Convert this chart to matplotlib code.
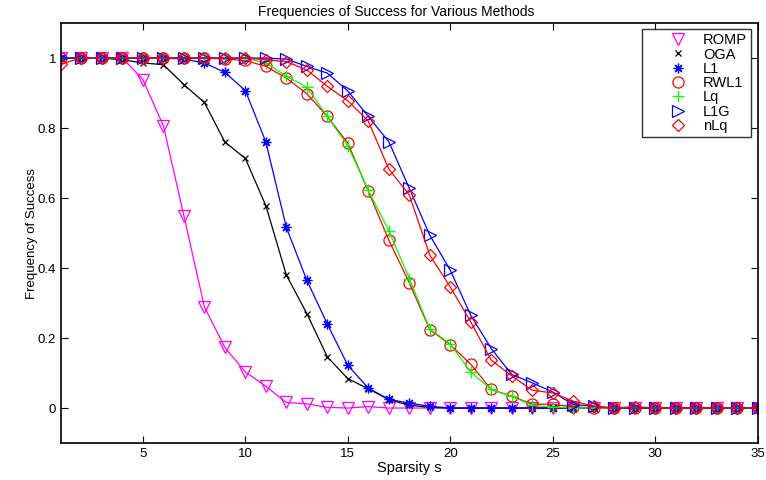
import matplotlib
matplotlib.use("Agg")
import matplotlib.pyplot as plt
from matplotlib.lines import Line2D
import numpy as np

plt.rcParams['font.family'] = ['Liberation Sans', 'DejaVu Sans']

# sparsity levels
s = np.arange(1, 36)

romp = [1, 1, 1, 1, 0.938, 0.806, 0.549, 0.289, 0.173, 0.103, 0.062, 0.016,
        0.012, 0.002, 0.0, 0.004, 0.0, 0.0] + [0] * 17
oga = [1, 1, 1, 0.995, 0.986, 0.981, 0.924, 0.873, 0.76, 0.713, 0.578, 0.38,
       0.27, 0.146, 0.084, 0.055, 0.024, 0.008, 0.002] + [0] * 16
l1 = [1, 1, 1, 1, 1, 1, 0.997, 0.986, 0.959, 0.907, 0.76, 0.516, 0.365, 0.24,
      0.122, 0.057, 0.025, 0.014, 0.005] + [0] * 16
rwl1 = [1, 1, 1, 1, 1, 1, 1, 1, 0.997, 0.993, 0.976, 0.943, 0.898, 0.833,
        0.757, 0.62, 0.48, 0.358, 0.224, 0.181, 0.125, 0.053, 0.034, 0.011,
        0.011, 0.003] + [0] * 9
lq = [1, 1, 1, 1, 1, 1, 1, 1, 1, 1, 0.986, 0.948, 0.917, 0.833, 0.749, 0.622,
      0.507, 0.37, 0.226, 0.183, 0.103, 0.053, 0.033, 0.008, 0.003] + [0] * 10
l1g = [1, 1, 1, 1, 1, 1, 1, 1, 1, 1, 1, 0.997, 0.976, 0.957, 0.906, 0.833,
       0.761, 0.628, 0.494, 0.394, 0.265, 0.17, 0.096, 0.072, 0.046, 0.01,
       0.005] + [0] * 8
nlq = [0.983, 1, 1, 1, 1, 1, 1, 1, 1, 1, 0.995, 0.99, 0.966, 0.919, 0.878,
       0.82, 0.683, 0.609, 0.437, 0.346, 0.246, 0.137, 0.092, 0.051, 0.043,
       0.02, 0.005, 0.0, 0.004] + [0] * 6

names = ["ROMP", "OGA", "L1", "RWL1", "Lq", "L1G", "nLq"]
series = [romp, oga, l1, rwl1, lq, l1g, nlq]
colors = ["#ff00ff", "black", "blue", "red", "#00ff00", "blue", "red"]
markers = ["v", "x", (8, 2, 0), "o", "+", ">", "D"]
msizes = [8, 5, 7, 8, 8, 8, 6]

fig = plt.figure(figsize=(7.66, 4.8), dpi=100)
ax = fig.add_axes([0.0796, 0.077, 0.9094, 0.875])

handles = []
for name, y, c, m, ms in zip(names, series, colors, markers, msizes):
    filled = not isinstance(m, str) or m in ("x", "+")
    ax.plot(s, y, color=c, marker=m, markersize=ms, linewidth=0.9,
            markerfacecolor=c if filled else "none", markeredgecolor=c,
            markeredgewidth=0.9)
    handles.append(Line2D([], [], linestyle="none", color=c, marker=m,
                          markersize=ms, markerfacecolor=c if filled else "none",
                          markeredgecolor=c, markeredgewidth=0.9, label=name))

ax.set_xlim(1, 35)
ax.set_ylim(-0.1, 1.1)
ax.set_xticks([5, 10, 15, 20, 25, 30, 35])
ax.set_yticks([0, 0.2, 0.4, 0.6, 0.8, 1])
ax.set_yticklabels(["0", "0.2", "0.4", "0.6", "0.8", "1"])
ax.tick_params(direction="in", top=True, right=True, labelsize=9.5, length=5)
for sp in ax.spines.values():
    sp.set_linewidth(1.2)

ax.set_title("Frequencies of Success for Various Methods", fontsize=10, pad=5, x=0.481)
ax.set_xlabel("Sparsity s", fontsize=10.5, labelpad=1)
ax.set_ylabel("Frequency of Success", fontsize=9.5, labelpad=0)

leg = ax.legend(handles=handles, loc="upper right", fontsize=10.5,
                frameon=True, fancybox=False, edgecolor="black",
                handlelength=4.4, handletextpad=-0.49, labelspacing=0.02,
                borderpad=0.3, borderaxespad=0,
                bbox_to_anchor=(0.991, 0.986))
leg.get_frame().set_linewidth(1.0)

fig.savefig("out.png", dpi=100)
